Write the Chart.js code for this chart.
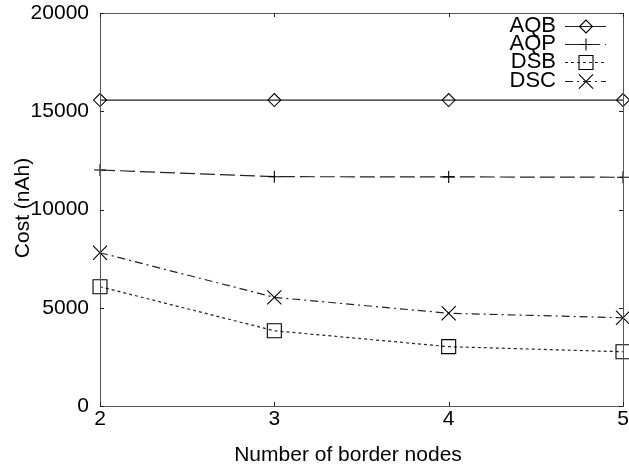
<!DOCTYPE html>
<html>
<head>
<meta charset="utf-8">
<script src="https://cdn.jsdelivr.net/npm/chart.js@4/dist/chart.umd.min.js"></script>
<style>
html,body{margin:0;padding:0;background:#fff;}
#wrap{width:629px;height:468px;position:relative;}
</style>
</head>
<body>
<div id="wrap"><canvas id="c" width="629" height="468"></canvas></div>
<script>
// ---- data ----
const borderNodes = [2, 3, 4, 5];
const seriesNames = ['AQB', 'AQP', 'DSB', 'DSC'];
const aqb = [15570, 15570, 15570, 15570];
const aqp = [12010, 11670, 11660, 11640];
const dsb = [6070, 3830, 3020, 2760];
const dsc = [7800, 5530, 4720, 4490];
const yTicks = [0, 5000, 10000, 15000, 20000];
const xTitle = 'Number of border nodes';
const yTitle = 'Cost (nAh)';

const FONT = '"Liberation Sans", Arial, Helvetica, sans-serif';

function pts(vals){ return borderNodes.map((x,i)=>({x:x,y:vals[i]})); }

const styles = [
  {dash: [], pointStyle: 'rectRot', radius: 6.5},
  {dash: [15, 5], pointStyle: 'cross', radius: 6},
  {dash: [3, 3], pointStyle: 'rect', radius: 9.9},
  {dash: [8, 4, 2, 4], pointStyle: 'crossRot', radius: 10}
];
const allVals = [aqb, aqp, dsb, dsc];

const datasets = allVals.map((v,i)=>({
  label: seriesNames[i],
  data: pts(v),
  borderColor: '#222',
  borderWidth: 1.2,
  borderDash: styles[i].dash,
  pointStyle: styles[i].pointStyle,
  pointRadius: styles[i].radius,
  pointHoverRadius: styles[i].radius,
  pointBorderColor: '#000',
  pointBackgroundColor: 'rgba(0,0,0,0)',
  pointBorderWidth: 1.1,
  fill: false,
  tension: 0,
  clip: false
}));

const framePlugin = {
  id: 'frame',
  afterDatasetsDraw(chart){
    const ctx = chart.ctx;
    const a = chart.chartArea;
    const xs = chart.scales.x, ys = chart.scales.y;
    ctx.save();
    ctx.strokeStyle = '#555';
    ctx.lineWidth = 1;
    ctx.setLineDash([]);
    ctx.strokeRect(Math.round(a.left)+0.5, Math.round(a.top)+0.5, Math.round(a.right-a.left), Math.round(a.bottom-a.top));
    // inward ticks
    ctx.strokeStyle = '#222';
    ctx.beginPath();
    yTicks.forEach(v=>{
      const y = Math.round(ys.getPixelForValue(v))+0.5;
      ctx.moveTo(a.left, y); ctx.lineTo(a.left+4, y);
      ctx.moveTo(a.right, y); ctx.lineTo(a.right-4, y);
    });
    borderNodes.forEach(v=>{
      const x = Math.round(xs.getPixelForValue(v))+0.5;
      ctx.moveTo(x, a.bottom); ctx.lineTo(x, a.bottom-4);
      ctx.moveTo(x, a.top); ctx.lineTo(x, a.top+4);
    });
    ctx.stroke();
    ctx.restore();
  },
  afterDraw(chart){
    const ctx = chart.ctx;
    ctx.save();
    // axis titles
    ctx.fillStyle = '#000';
    ctx.font = '21px ' + FONT;
    ctx.textAlign = 'center';
    ctx.textBaseline = 'alphabetic';
    ctx.fillText(xTitle, 348, 461);
    ctx.save();
    ctx.translate(29, 208);
    ctx.rotate(-Math.PI/2);
    ctx.textBaseline = 'alphabetic';
    ctx.fillText(yTitle, 0, 0);
    ctx.restore();
    // legend
    chart.data.datasets.forEach((ds,i)=>{
      const y = 25.5 + i*18.4;
      ctx.font = '22px ' + FONT;
      ctx.textAlign = 'right';
      ctx.textBaseline = 'middle';
      ctx.fillStyle = '#000';
      ctx.fillText(ds.label, 556, y);
      ctx.strokeStyle = ds.borderColor;
      ctx.lineWidth = ds.borderWidth;
      ctx.setLineDash(ds.borderDash);
      ctx.beginPath();
      ctx.moveTo(565, Math.round(y)+0.5);
      ctx.lineTo(606, Math.round(y)+0.5);
      ctx.stroke();
      ctx.setLineDash([]);
      ctx.strokeStyle = ds.pointBorderColor;
      ctx.fillStyle = 'rgba(0,0,0,0)';
      ctx.lineWidth = ds.pointBorderWidth;
      Chart.helpers.drawPoint(ctx, {pointStyle: ds.pointStyle, rotation: 0, radius: ds.pointRadius, borderWidth: ds.pointBorderWidth}, 586, Math.round(y)+0.5);
    });
    ctx.restore();
  }
};

new Chart(document.getElementById('c'), {
  type: 'line',
  data: { datasets: datasets },
  options: {
    responsive: false,
    animation: false,
    devicePixelRatio: 1,
    layout: { autoPadding: false, padding: { left: 0, right: 6, top: 13, bottom: 0 } },
    plugins: { legend: { display: false }, tooltip: { enabled: false } },
    scales: {
      x: {
        type: 'linear',
        min: 2, max: 5,
        afterBuildTicks(scale){ scale.ticks = borderNodes.map(v=>({value:v})); },
        afterFit(scale){ scale.height = 62; scale.paddingLeft = 0; scale.paddingRight = 0; },
        grid: { display: false, drawTicks: false },
        border: { display: false },
        ticks: {
          color: '#000',
          font: { family: FONT, size: 21 },
          padding: 1,
          maxRotation: 0,
          callback: v => String(v)
        }
      },
      y: {
        type: 'linear',
        min: 0, max: 20000,
        afterBuildTicks(scale){ scale.ticks = yTicks.map(v=>({value:v})); },
        afterFit(scale){ scale.width = 100; scale.paddingTop = 0; scale.paddingBottom = 0; },
        grid: { display: false, drawTicks: false },
        border: { display: false },
        ticks: {
          color: '#000',
          font: { family: FONT, size: 21 },
          padding: 11,
          callback: v => String(v)
        }
      }
    }
  },
  plugins: [framePlugin]
});
</script>
</body>
</html>
